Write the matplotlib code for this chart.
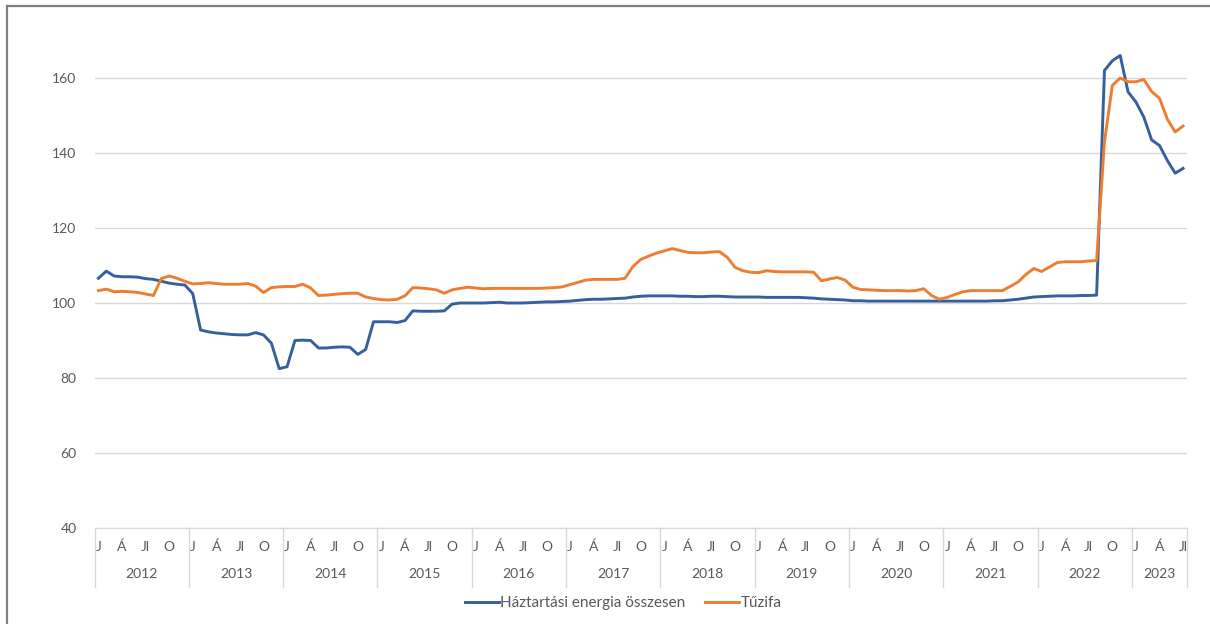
import numpy as np
import matplotlib.pyplot as plt
from matplotlib.lines import Line2D

# monthly index values, Jan 2012 .. Jul 2023
years = ["2012", "2013", "2014", "2015", "2016", "2017", "2018", "2019",
         "2020", "2021", "2022", "2023"]
months_in_year = [12, 12, 12, 12, 12, 12, 12, 12, 12, 12, 12, 7]
month_labels = {0: "J", 3: "Á", 6: "Jl", 9: "O"}

energia = [
    # 2012
    106.6, 108.5, 107.2, 107.0, 107.0, 106.9, 106.5, 106.3, 105.8, 105.3, 105.0, 104.8,
    # 2013
    102.5, 92.8, 92.3, 92.0, 91.8, 91.6, 91.5, 91.5, 92.1, 91.5, 89.3, 82.5,
    # 2014
    83.0, 90.0, 90.1, 90.0, 88.0, 88.0, 88.2, 88.3, 88.2, 86.3, 87.6, 95.0,
    # 2015
    95.0, 95.0, 94.8, 95.3, 97.9, 97.8, 97.8, 97.8, 97.9, 99.7, 100.0, 100.0,
    # 2016
    100.0, 100.0, 100.1, 100.2, 100.0, 100.0, 100.0, 100.1, 100.2, 100.3, 100.3, 100.4,
    # 2017
    100.5, 100.7, 100.9, 101.0, 101.0, 101.1, 101.2, 101.3, 101.6, 101.8, 101.9, 101.9,
    # 2018
    101.9, 101.9, 101.8, 101.8, 101.7, 101.7, 101.8, 101.8, 101.7, 101.6, 101.6, 101.6,
    # 2019
    101.6, 101.5, 101.5, 101.5, 101.5, 101.5, 101.4, 101.3, 101.1, 101.0, 100.9, 100.8,
    # 2020
    100.6, 100.6, 100.5, 100.5, 100.5, 100.5, 100.5, 100.5, 100.5, 100.5, 100.5, 100.5,
    # 2021
    100.5, 100.5, 100.5, 100.5, 100.5, 100.5, 100.6, 100.6, 100.8, 101.0, 101.3, 101.6,
    # 2022
    101.7, 101.8, 101.9, 101.9, 101.9, 102.0, 102.0, 102.1, 162.0, 164.6, 166.0, 156.3,
    # 2023
    153.6, 149.6, 143.5, 142.0, 138.0, 134.6, 135.9,
]

tuzifa = [
    # 2012
    103.3, 103.7, 103.0, 103.1, 103.0, 102.8, 102.4, 102.0, 106.5, 107.2, 106.6, 105.8,
    # 2013
    105.1, 105.2, 105.4, 105.2, 105.0, 105.0, 105.0, 105.2, 104.5, 102.8, 104.1, 104.3,
    # 2014
    104.4, 104.4, 105.0, 104.0, 102.0, 102.1, 102.3, 102.5, 102.6, 102.6, 101.6, 101.2,
    # 2015
    100.9, 100.8, 101.0, 101.9, 104.1, 104.0, 103.8, 103.5, 102.6, 103.5, 103.9, 104.2,
    # 2016
    104.0, 103.8, 103.9, 103.9, 103.9, 103.9, 103.9, 103.9, 103.9, 104.0, 104.1, 104.3,
    # 2017
    104.9, 105.5, 106.1, 106.3, 106.3, 106.3, 106.3, 106.6, 109.7, 111.6, 112.5, 113.3,
    # 2018
    113.9, 114.5, 114.0, 113.5, 113.4, 113.4, 113.6, 113.7, 112.2, 109.5, 108.6, 108.2,
    # 2019
    108.1, 108.6, 108.4, 108.3, 108.3, 108.3, 108.3, 108.2, 105.9, 106.4, 106.8, 106.1,
    # 2020
    104.2, 103.6, 103.5, 103.4, 103.3, 103.3, 103.3, 103.2, 103.3, 103.8, 102.0, 101.0,
    # 2021
    101.5, 102.3, 103.0, 103.3, 103.3, 103.3, 103.3, 103.3, 104.4, 105.6, 107.6, 109.2,
    # 2022
    108.4, 109.6, 110.8, 111.0, 111.0, 111.0, 111.2, 111.3, 143.0, 158.0, 160.0, 159.0,
    # 2023
    159.0, 159.6, 156.4, 154.6, 149.0, 145.6, 147.2,
]

series_names = ["Háztartási energia összesen", "Tűzifa"]
colors = ["#365F9E", "#ED7D31"]

plt.rcParams['font.family'] = ['Lato', 'DejaVu Sans']

W, H = 1210, 624
fig = plt.figure(figsize=(W / 100, H / 100), dpi=100)

# frame of the chart object (top and left edges visible)
fig.add_artist(Line2D([7 / W, 1], [1 - 6 / H, 1 - 6 / H], color="#808080", lw=1.6))
fig.add_artist(Line2D([7 / W, 7 / W], [0, 1 - 6 / H], color="#808080", lw=1.6))

x0, x1 = 94.5, 1187.0
ybot, ytop = 528.0, 528.0 - 130 * 3.75
axh = ybot - ytop
ax = fig.add_axes([x0 / W, 1 - ybot / H, (x1 - x0) / W, axh / H])

n = len(energia)
x = np.arange(n) + 0.5
ax.plot(x, energia, color=colors[0], lw=2.1, solid_joinstyle="round")
ax.plot(x, tuzifa, color=colors[1], lw=2.1, solid_joinstyle="round")

ax.set_xlim(0, n)
ax.set_ylim(40, 170)
ax.set_yticks(range(40, 161, 20))
ax.grid(axis="y", color="#D9D9D9", lw=1.0)
ax.set_axisbelow(True)
for s in ["top", "right", "left"]:
    ax.spines[s].set_visible(False)
ax.spines["bottom"].set_color("#D9D9D9")
ax.tick_params(axis="y", length=0, pad=13, labelsize=10, labelcolor="#595959")
ax.set_xticks([])

# two-level category axis: month letters and years
trans = ax.get_xaxis_transform()
start = 0
for yr, cnt in zip(years, months_in_year):
    for m in range(cnt):
        if m in month_labels:
            ax.text(start + m + 0.5, -19 / axh, month_labels[m], transform=trans,
                    ha="center", va="center", fontsize=10, color="#595959")
    ax.text(start + cnt / 2, -46 / axh, yr, transform=trans, ha="center",
            va="center", fontsize=10, color="#595959")
    ax.plot([start, start], [0, -59 / axh], transform=trans, color="#D9D9D9",
            lw=1.0, clip_on=False)
    start += cnt
ax.plot([start, start], [0, -59 / axh], transform=trans, color="#D9D9D9",
        lw=1.0, clip_on=False)

handles = [Line2D([], [], color=c, lw=2.1) for c in colors]
fig.legend(handles, series_names, loc="center", bbox_to_anchor=(0.515, 1 - 603 / H),
           ncol=2, frameon=False, fontsize=11, labelcolor="#595959",
           handlelength=2.2, handletextpad=0.1, columnspacing=1.3)

fig.savefig("out.png", dpi=100, facecolor="white")
